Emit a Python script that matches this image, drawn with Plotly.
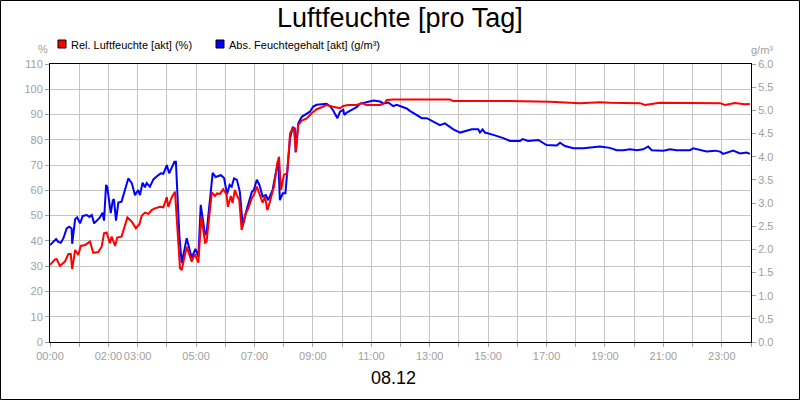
import plotly.graph_objects as go

# ---------------- data ----------------
title_text = "Luftfeuchte [pro Tag]"
date_label = "08.12"
rel_name = "Rel. Luftfeuchte [akt] (%)"
abs_name = "Abs. Feuchtegehalt [akt] (g/m³)"
left_unit = "%"
right_unit = "g/m³"

hour_ticks = list(range(25))
hour_labels = ["00:00", "", "02:00", "03:00", "", "05:00", "", "07:00", "", "09:00", "",
               "11:00", "", "13:00", "", "15:00", "", "17:00", "", "19:00", "", "21:00",
               "", "23:00", ""]

rel_hours = [0.00, 0.17, 0.23, 0.34, 0.51, 0.63, 0.71, 0.76, 0.86, 0.97, 1.05, 1.20, 1.37, 1.48,
             1.65, 1.77, 1.85, 1.94, 2.05, 2.11, 2.23, 2.30, 2.45, 2.65, 2.80, 2.94, 3.06, 3.14,
             3.25, 3.37, 3.48, 3.59, 3.77, 3.88, 4.00, 4.05, 4.17, 4.28, 4.45, 4.51, 4.68, 4.85,
             4.96, 5.08, 5.18, 5.31, 5.36, 5.54, 5.65, 5.72, 5.82, 5.93, 6.04, 6.09, 6.19, 6.25,
             6.33, 6.39, 6.48, 6.56, 6.68, 6.79, 6.91, 6.98, 7.08, 7.19, 7.28, 7.36, 7.44, 7.53,
             7.67, 7.78, 7.84, 7.91, 8.01, 8.12, 8.22, 8.31, 8.35, 8.42, 8.50, 8.62, 8.79, 8.96,
             9.13, 9.30, 9.47, 9.70, 9.93, 10.04, 10.21, 10.50, 10.67, 10.84, 11.30, 11.47, 11.53,
             11.75, 12.32, 13.69, 13.80, 15.41, 17.12, 18.14, 18.83, 19.17, 20.20, 20.37, 20.88,
             21.91, 22.94, 23.11, 23.45, 23.79, 23.96]
rel_values = [30.5, 32.7, 32.8, 30.1, 31.8, 34.8, 34.8, 28.8, 36.4, 34.4, 38.0, 38.4, 39.7, 35.3,
              35.6, 37.7, 43.0, 43.3, 39.1, 41.7, 38.0, 41.3, 41.7, 49.3, 47.6, 45.0, 46.6, 49.9,
              51.2, 50.7, 52.2, 52.9, 53.5, 53.3, 57.3, 53.5, 57.3, 59.5, 29.2, 28.5, 37.7, 31.8,
              34.8, 31.4, 49.6, 39.3, 39.7, 59.2, 57.8, 58.8, 58.6, 60.4, 58.6, 53.5, 57.8, 55.0,
              60.2, 58.2, 56.2, 44.3, 50.3, 52.9, 56.9, 58.2, 61.5, 58.2, 55.1, 57.5, 52.2, 55.5,
              61.5, 70.7, 73.3, 60.2, 66.1, 66.8, 82.6, 84.6, 84.2, 75.3, 85.9, 87.6, 88.5, 90.5,
              92.1, 92.9, 93.8, 93.1, 92.5, 93.4, 93.8, 93.8, 94.5, 93.8, 93.8, 94.7, 95.8,
              96.0, 96.0, 96.0, 95.4, 95.4, 95.1, 94.5, 94.9, 94.7, 94.5, 93.8, 94.7,
              94.7, 94.5, 93.8, 94.6, 94.1, 94.2]

abs_hours = [0.00, 0.11, 0.21, 0.28, 0.37, 0.46, 0.57, 0.66, 0.74, 0.76, 0.86, 0.93, 1.03, 1.12,
             1.26, 1.35, 1.43, 1.51, 1.60, 1.71, 1.80, 1.85, 1.92, 1.96, 2.08, 2.15, 2.19, 2.26,
             2.34, 2.45, 2.68, 2.80, 2.91, 3.02, 3.08, 3.17, 3.25, 3.31, 3.42, 3.54, 3.65, 3.79,
             3.88, 4.00, 4.08, 4.17, 4.26, 4.31, 4.43, 4.51, 4.68, 4.85, 4.98, 5.08, 5.16, 5.31,
             5.36, 5.57, 5.67, 5.85, 5.96, 6.06, 6.15, 6.22, 6.30, 6.40, 6.50, 6.60, 6.73, 6.91,
             6.98, 7.08, 7.17, 7.28, 7.39, 7.47, 7.62, 7.74, 7.82, 7.87, 7.97, 8.06, 8.15, 8.22,
             8.31, 8.38, 8.41, 8.50, 8.62, 8.73, 8.90, 9.01, 9.13, 9.47, 9.59, 9.70, 9.84, 9.93,
             10.04, 10.08, 10.16, 10.33, 10.50, 10.61, 10.84, 11.07, 11.30, 11.41, 11.58, 11.75,
             11.87, 12.04, 12.21, 12.32, 12.44, 12.73, 12.90, 13.12, 13.35, 13.52, 13.81, 14.04,
             14.27, 14.44, 14.66, 14.72, 14.81, 14.89, 15.18, 15.29, 15.52, 15.75, 16.09, 16.18,
             16.37, 16.72, 16.83, 17.00, 17.35, 17.46, 17.63, 17.92, 18.26, 18.49, 18.83, 19.17,
             19.40, 19.63, 19.86, 20.09, 20.31, 20.48, 20.60, 21.00, 21.23, 21.45, 21.91, 22.02,
             22.25, 22.48, 22.77, 22.94, 23.05, 23.39, 23.62, 23.85, 23.96]
abs_values = [2.09, 2.16, 2.22, 2.16, 2.14, 2.24, 2.45, 2.49, 2.45, 2.12, 2.65, 2.69, 2.56, 2.72,
              2.74, 2.70, 2.74, 2.56, 2.62, 2.69, 2.79, 2.62, 3.39, 3.35, 2.78, 3.06, 3.08, 2.62,
              3.01, 3.03, 3.53, 3.43, 3.17, 3.28, 3.17, 3.44, 3.34, 3.43, 3.35, 3.51, 3.57, 3.64,
              3.63, 3.82, 3.64, 3.78, 3.89, 3.89, 2.29, 1.70, 2.24, 1.82, 2.01, 1.84, 2.96, 2.31,
              2.35, 3.65, 3.56, 3.60, 3.54, 3.19, 3.39, 3.35, 3.53, 3.50, 3.24, 2.50, 2.85, 3.24,
              3.28, 3.50, 3.39, 3.14, 3.17, 3.06, 3.28, 3.68, 3.86, 3.06, 3.21, 3.21, 3.86, 4.40,
              4.63, 4.61, 4.09, 4.72, 4.86, 4.90, 4.97, 5.08, 5.12, 5.14, 5.09, 4.99, 4.83, 4.97,
              5.01, 4.90, 4.95, 5.01, 5.07, 5.14, 5.17, 5.21, 5.19, 5.15, 5.17, 5.09,
              5.12, 5.08, 5.04, 4.99, 4.94, 4.83, 4.83, 4.76, 4.68, 4.72, 4.59, 4.52,
              4.56, 4.59, 4.59, 4.52, 4.59, 4.52, 4.47, 4.45, 4.40, 4.34, 4.34, 4.38,
              4.34, 4.36, 4.32, 4.25, 4.24, 4.30, 4.23, 4.18, 4.18, 4.20, 4.22, 4.19,
              4.14, 4.14, 4.16, 4.14, 4.16, 4.22, 4.14, 4.13, 4.16, 4.14, 4.14, 4.18,
              4.14, 4.11, 4.13, 4.11, 4.06, 4.13, 4.07, 4.09, 4.06]

# ---------------- layout constants ----------------
W, H = 800, 400
L, R, T, B = 50, 49, 64, 58
PW, PH = W - L - R, H - T - B
FONT = "Liberation Sans, Arial, sans-serif"
GRAY = "#a0a0a0"
GRID = "#c4c4c4"


def px(x):
    return (x - L) / PW


def py(y):
    return (H - B - y) / PH


fig = go.Figure()
fig.add_trace(go.Scatter(x=abs_hours, y=abs_values, mode="lines", name=abs_name,
                         line=dict(color="#0000ff", width=2), yaxis="y", showlegend=False))
fig.add_trace(go.Scatter(x=rel_hours, y=rel_values, mode="lines", name=rel_name,
                         line=dict(color="#ff0000", width=2), yaxis="y2", showlegend=False))

axis_common = dict(showline=True, linecolor="black", linewidth=1, ticks="outside",
                   ticklen=4, tickcolor=GRAY, tickfont=dict(family=FONT, size=11, color=GRAY),
                   zeroline=False)

fig.update_layout(
    width=W, height=H,
    margin=dict(l=L, r=R, t=T, b=B),
    paper_bgcolor="white", plot_bgcolor="white",
    showlegend=False,
    font=dict(family=FONT),
    xaxis=dict(range=[0, 24], tickmode="array", tickvals=hour_ticks, ticktext=hour_labels,
               tickangle=0, ticklabeloverflow="allow",
               showgrid=True, gridcolor=GRID, gridwidth=1, mirror=True, **axis_common),
    yaxis=dict(side="right", range=[0, 6], tick0=0, dtick=0.5, tickformat=".1f",
               showgrid=False, **axis_common),
    yaxis2=dict(side="left", overlaying="y", range=[0, 110], tick0=0, dtick=10,
                showgrid=True, gridcolor=GRID, gridwidth=1, **axis_common),
)

annotations = [
    dict(text=title_text, x=px(400), y=py(18), font=dict(size=27, color="black", family=FONT)),
    dict(text=date_label, x=px(393), y=py(378), font=dict(size=18, color="black", family=FONT)),
    dict(text=left_unit, x=px(43), y=py(49), font=dict(size=11, color=GRAY, family=FONT)),
    dict(text=right_unit, x=px(762), y=py(50), font=dict(size=11, color=GRAY, family=FONT)),
    dict(text=rel_name, x=px(69), y=py(44.5), xanchor="left",
         font=dict(size=11, color="black", family=FONT)),
    dict(text=abs_name, x=px(227), y=py(44.5), xanchor="left",
         font=dict(size=11, color="black", family=FONT)),
]
for a in annotations:
    a.setdefault("xanchor", "center")
    a.update(xref="paper", yref="paper", yanchor="middle", showarrow=False)
fig.update_layout(annotations=annotations)

shapes = [
    # outer frame
    dict(type="rect", x0=px(0.5), x1=px(W - 0.5), y0=py(H - 0.5), y1=py(0.5),
         line=dict(color="black", width=1)),
    # legend swatches
    dict(type="rect", x0=px(58), x1=px(66), y0=py(48), y1=py(40),
         fillcolor="#ff0000", line=dict(color="black", width=1)),
    dict(type="rect", x0=px(216), x1=px(224), y0=py(48), y1=py(40),
         fillcolor="#0000ff", line=dict(color="black", width=1)),
]
for s in shapes:
    s.update(xref="paper", yref="paper", layer="above")
fig.update_layout(shapes=shapes)

fig.write_html("out.html", config={"displayModeBar": False},
               post_script="document.body.style.margin='0';document.body.style.overflow='hidden';")
